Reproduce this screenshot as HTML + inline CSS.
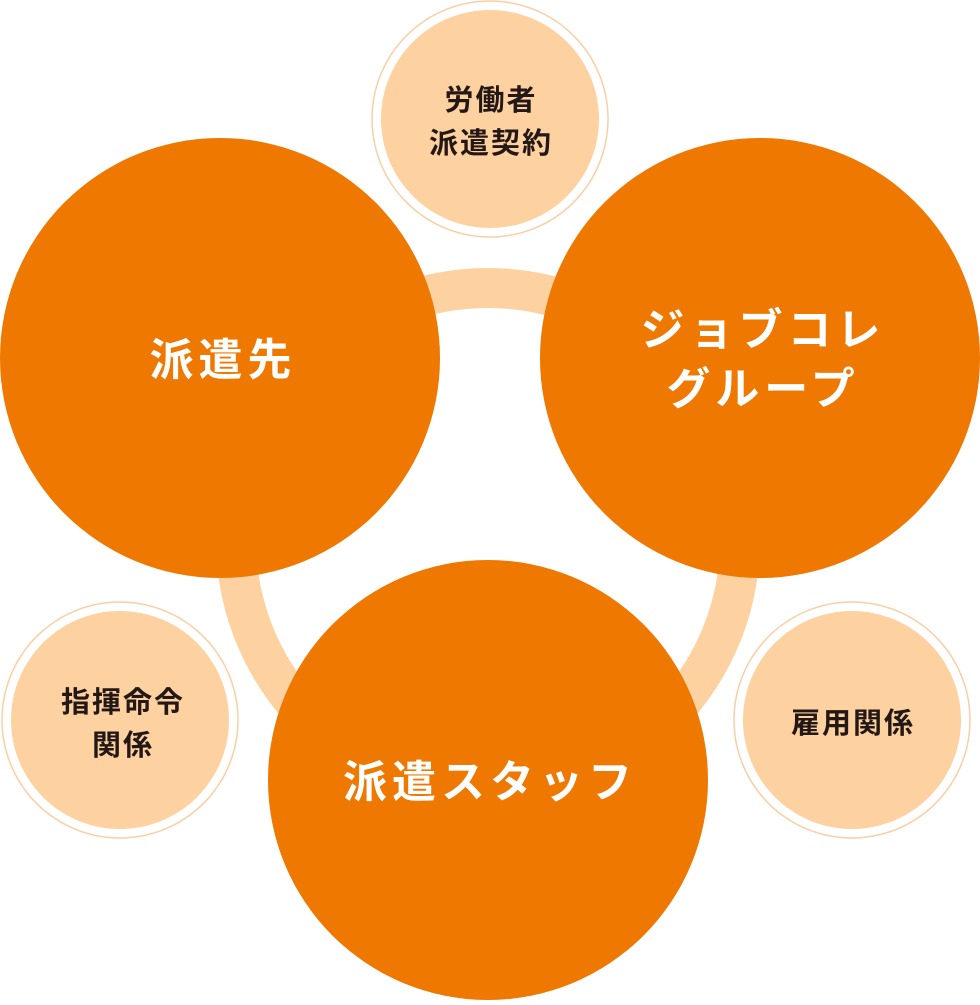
<!DOCTYPE html>
<html><head><meta charset="utf-8"><style>
html,body{margin:0;padding:0;background:#fff;}
svg text{font-family:"Liberation Sans","Noto Sans CJK JP",sans-serif;font-weight:bold;text-anchor:middle;}
</style></head><body>
<svg width="980" height="1000" viewBox="0 0 980 1000" xmlns="http://www.w3.org/2000/svg">
<circle cx="488" cy="540" r="252" fill="none" stroke="#fdd1a0" stroke-width="40"/>
<circle cx="220" cy="358" r="220" fill="#ee7800"/>
<circle cx="760" cy="358" r="220" fill="#ee7800"/>
<circle cx="488" cy="780" r="220" fill="#ee7800"/>
<g fill="#fdd1a0" stroke="none">
<circle cx="490" cy="119" r="109"/>
<circle cx="120" cy="720" r="109"/>
<circle cx="852" cy="720" r="109"/>
</g>
<g fill="none" stroke="#f9cfa5" stroke-width="1.5">
<circle cx="490" cy="119" r="118"/>
<circle cx="120" cy="720" r="118"/>
<circle cx="852" cy="720" r="118"/>
</g>
<g fill="#231815" font-size="29" letter-spacing="2">
<text x="491" y="110">労働者</text>
<text x="491" y="153">派遣契約</text>
<text x="123" y="712">指揮命令</text>
<text x="123" y="755">関係</text>
<text x="853" y="733">雇用関係</text>
</g>
<g fill="#fff" font-size="44" letter-spacing="5">
<text x="223" y="375">派遣先</text>
<text x="763" y="345">ジョブコレ</text>
<text x="763" y="404">グループ</text>
<text x="490" y="797">派遣スタッフ</text>
</g>
</svg>
</body></html>
